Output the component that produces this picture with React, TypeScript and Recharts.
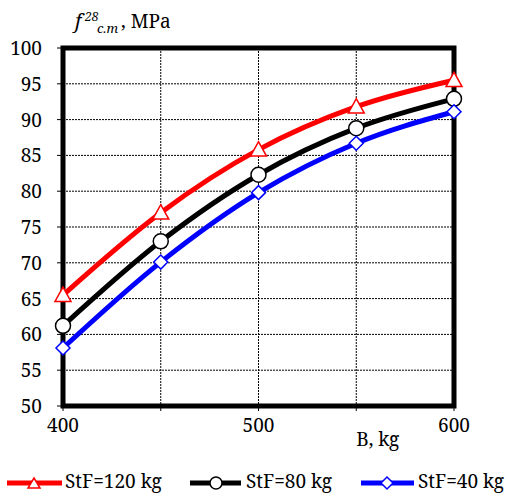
import React from 'react';
import { LineChart, Line, XAxis, YAxis, CartesianGrid, ReferenceArea } from 'recharts';

const bValues = [400, 450, 500, 550, 600];
const stf120 = [65.5, 77.0, 85.8, 91.8, 95.5];
const stf80 = [61.2, 73.0, 82.3, 88.8, 92.9];
const stf40 = [58.1, 70.1, 79.8, 86.7, 91.1];
const xTicks = [400, 450, 500, 550, 600];
const xLabelled = [400, 500, 600];
const yTicks = [50, 55, 60, 65, 70, 75, 80, 85, 90, 95, 100];
const seriesNames = ['StF=120 kg', 'StF=80 kg', 'StF=40 kg'];

const data = bValues.map((b, i) => ({ b, s120: stf120[i], s80: stf80[i], s40: stf40[i] }));

const FONT = '"Noto Serif", "Liberation Serif", serif';
const RED = '#ff0000';
const BLUE = '#0000ff';

const Tri = (props: any) => {
  const { cx, cy, index } = props;
  if (cx == null || cy == null) return null;
  const s = 8;
  return (
    <polygon key={'t' + index} points={`${cx},${cy - s} ${cx + s},${cy + s * 0.8} ${cx - s},${cy + s * 0.8}`}
      fill="#fff" stroke={RED} strokeWidth={1.5} />
  );
};
const Circ = (props: any) => {
  const { cx, cy, index } = props;
  if (cx == null || cy == null) return null;
  return <circle key={'c' + index} cx={cx} cy={cy} r={7.5} fill="#fff" stroke="#000" strokeWidth={1.5} />;
};
const Dia = (props: any) => {
  const { cx, cy, index } = props;
  if (cx == null || cy == null) return null;
  const s = 7;
  return (
    <polygon key={'d' + index} points={`${cx},${cy - s} ${cx + s},${cy} ${cx},${cy + s} ${cx - s},${cy}`}
      fill="#fff" stroke={BLUE} strokeWidth={1.5} />
  );
};

const XTick = (props: any) => {
  const { x, y, payload } = props;
  if (!xLabelled.includes(payload.value)) return null;
  return (
    <text x={x} y={y} textAnchor="middle" fontFamily={FONT} fontSize={19} fill="#000">{payload.value}</text>
  );
};
const YTick = (props: any) => {
  const { x, y, payload } = props;
  return (
    <text x={x} y={y + 7} textAnchor="end" fontFamily={FONT} fontSize={19} fill="#000">{payload.value}</text>
  );
};

const XLabel = (props: any) => {
  const vb = props.viewBox || {};
  return (
    <text x={vb.x + vb.width * 0.805} y={446} textAnchor="middle" fontFamily={FONT} fontSize={19} fill="#000">B, kg</text>
  );
};

export default function App() {
  return (
    <div style={{ position: 'absolute', left: 0, top: 0, width: 510, height: 497, background: '#fff' }}>
      <LineChart width={510} height={497} data={data} margin={{ top: 48, right: 56, left: 0, bottom: 41 }}>
        <CartesianGrid stroke="#000" strokeWidth={1} strokeDasharray="2 1" horizontalValues={yTicks} verticalValues={xTicks} />
        <XAxis dataKey="b" type="number" domain={[400, 600]} ticks={xTicks} interval={0} height={50}
          axisLine={false} tickLine={{ stroke: '#000', strokeWidth: 1 }} tickSize={5} tickMargin={21}
          tick={<XTick />} label={<XLabel />} />
        <YAxis type="number" domain={[50, 100]} ticks={yTicks} interval={0} width={63}
          axisLine={false} tickLine={{ stroke: '#000', strokeWidth: 1 }} tickSize={6} tickMargin={15}
          tick={<YTick />} />
        <ReferenceArea x1={400} x2={600} y1={50} y2={100} fill="none" fillOpacity={0} stroke="#000" strokeWidth={5} ifOverflow="visible" />
        <Line type="monotone" dataKey="s120" name={seriesNames[0]} stroke={RED} strokeWidth={5} dot={<Tri />} isAnimationActive={false} />
        <Line type="monotone" dataKey="s80" name={seriesNames[1]} stroke="#000" strokeWidth={5} dot={<Circ />} isAnimationActive={false} />
        <Line type="monotone" dataKey="s40" name={seriesNames[2]} stroke={BLUE} strokeWidth={5} dot={<Dia />} isAnimationActive={false} />
      </LineChart>
      <svg width={200} height={40} style={{ position: 'absolute', left: 0, top: 0 }}>
        <text fontFamily={FONT} fill="#000">
          <tspan x={75} y={28} fontSize={20} fontStyle="italic">f</tspan>
          <tspan x={85} y={21} fontSize={12} fontStyle="italic">28</tspan>
          <tspan x={97} y={33} fontSize={13} fontStyle="italic">c.m</tspan>
          <tspan x={121} y={28} fontSize={19}>, MPa</tspan>
        </text>
      </svg>
      <svg width={510} height={30} style={{ position: 'absolute', left: 0, top: 468 }}>
        <g>
          <line x1={7} y1={15} x2={62} y2={15} stroke={RED} strokeWidth={5} />
          <polygon points="34,10 40,20 28,20" fill="#fff" stroke={RED} strokeWidth={1.5} />
          <text x={65} y={20} fontFamily={FONT} fontSize={19} fill="#000">{seriesNames[0]}</text>
        </g>
        <g>
          <line x1={190} y1={15} x2={241} y2={15} stroke="#000" strokeWidth={5} />
          <circle cx={216} cy={15} r={6} fill="#fff" stroke="#000" strokeWidth={1.5} />
          <text x={246} y={20} fontFamily={FONT} fontSize={19} fill="#000">{seriesNames[1]}</text>
        </g>
        <g>
          <line x1={361} y1={15} x2={414} y2={15} stroke={BLUE} strokeWidth={5} />
          <polygon points="387,9 393,15 387,21 381,15" fill="#fff" stroke={BLUE} strokeWidth={1.5} />
          <text x={418} y={20} fontFamily={FONT} fontSize={19} fill="#000">{seriesNames[2]}</text>
        </g>
      </svg>
    </div>
  );
}
